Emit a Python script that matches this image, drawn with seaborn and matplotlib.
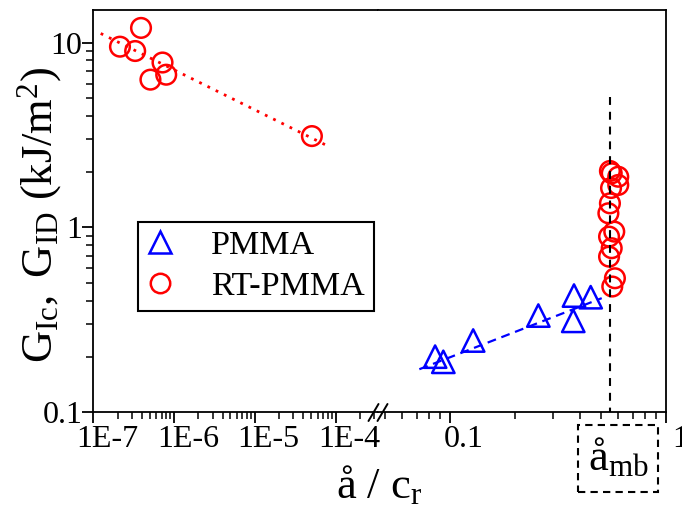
import numpy as np
import pandas as pd
import matplotlib
matplotlib.use('Agg')
import matplotlib.pyplot as plt
import matplotlib.transforms as mtrans
from matplotlib.patches import Rectangle
from matplotlib.lines import Line2D
from matplotlib.ticker import LogLocator, FixedLocator, FixedFormatter, NullFormatter
import seaborn as sns

# ---------------- data ----------------
rt_low_x = [3.9e-7, 2.14e-7, 3.3e-7, 7.2e-7, 5.1e-7, 8.0e-7, 5.1e-5]
rt_low_y = [12.0, 9.5, 9.0, 7.8, 6.3, 6.7, 3.12]
rt_fit_x = [1.235e-7, 8.4e-5]
rt_fit_y = [11.2, 2.73]

pmma_x = [0.0853, 0.0931, 0.128, 0.2564, 0.375, 0.372, 0.448]
pmma_y = [0.200, 0.1875, 0.2445, 0.3336, 0.428, 0.3123, 0.4194]
pmma_fit_x = [0.0721, 0.504]
pmma_fit_y = [0.171, 0.4144]

rt_mb_x = [0.550, 0.5605, 0.601, 0.601, 0.5566, 0.550, 0.541, 0.576, 0.545, 0.5605, 0.545, 0.580, 0.564]
rt_mb_y = [2.02, 1.963, 1.88, 1.697, 1.634, 1.35, 1.193, 0.949, 0.892, 0.772, 0.695, 0.531, 0.479]

a_mb = 0.553
a_mb_line_y = [5.1, 0.1]

left_ticks = [1e-7, 1e-6, 1e-5, 1e-4]
left_labels = ['1E-7', '1E-6', '1E-5', '1E-4']
right_ticks = [0.1, 1]
right_labels = ['0.1', '1']
y_ticks = [0.1, 1, 10]
y_labels = ['0.1', '1', '10']

# ---------------- style ----------------
sns.set_theme(style='ticks')
plt.rcParams['font.family'] = ['Liberation Serif', 'DejaVu Serif']
plt.rcParams['mathtext.fontset'] = 'custom'
plt.rcParams['mathtext.rm'] = 'Liberation Serif'
plt.rcParams['mathtext.it'] = 'Liberation Serif:italic'
plt.rcParams['mathtext.bf'] = 'Liberation Serif:bold'
for k in ('text.color', 'axes.labelcolor', 'xtick.color', 'ytick.color', 'axes.edgecolor'):
    plt.rcParams[k] = 'black'

W, H = 682, 520
fig = plt.figure(figsize=(W / 100, H / 100), dpi=100)
fig.patch.set_facecolor('white')

xl, xb, xr = 93.3, 378.0, 666.0
yt, yb = 10.0, 412.3
L = xl / W; BR = xb / W; R = xr / W
B = 1 - yb / H; T = 1 - yt / H
ax1 = fig.add_axes([L, B, BR - L, T - B])
ax2 = fig.add_axes([BR, B, R - BR, T - B], sharey=ax1)

for ax in (ax1, ax2):
    ax.set_facecolor('white')
    ax.set_xscale('log')
    ax.set_yscale('log')
    for s in ax.spines.values():
        s.set_linewidth(1.3)
        s.set_color('black')
ax1.spines['right'].set_visible(False)
ax2.spines['left'].set_visible(False)

ax1.set_xlim(1e-7, 3.36e-4)
ax2.set_xlim(0.0464, 1.0)
ax1.set_ylim(0.1, 15)

# ---------------- marks ----------------
ax1.plot(rt_fit_x, rt_fit_y, color='red', linestyle=(0, (1, 2.3)), linewidth=2.0, zorder=2)
ax2.plot(pmma_fit_x, pmma_fit_y, color='blue', linestyle=(0, (4, 2.6)), linewidth=1.6, zorder=2)
ax2.plot([a_mb, a_mb], a_mb_line_y, color='black', linestyle=(0, (3.8, 3.3)), linewidth=1.5,
         zorder=4, clip_on=False)

sns.scatterplot(x=rt_low_x, y=rt_low_y, ax=ax1, marker='o', s=200, facecolor='none',
                edgecolor='red', linewidth=1.8, zorder=3)
sns.scatterplot(x=rt_mb_x, y=rt_mb_y, ax=ax2, marker='o', s=200, facecolor='none',
                edgecolor='red', linewidth=1.8, zorder=3)
sns.scatterplot(x=pmma_x, y=pmma_y, ax=ax2, marker='^', s=260, facecolor='none',
                edgecolor='blue', linewidth=1.8, zorder=3)

# ---------------- ticks ----------------
tick_fs = 23
ax1.xaxis.set_major_locator(FixedLocator(left_ticks))
ax1.xaxis.set_major_formatter(FixedFormatter(left_labels))
ax1.xaxis.set_minor_locator(LogLocator(base=10, subs=np.arange(2, 10), numticks=20))
ax1.xaxis.set_minor_formatter(NullFormatter())
ax2.xaxis.set_major_locator(FixedLocator(right_ticks))
ax2.xaxis.set_major_formatter(FixedFormatter(right_labels))
ax2.xaxis.set_minor_locator(LogLocator(base=10, subs=np.arange(2, 10), numticks=20))
ax2.xaxis.set_minor_formatter(NullFormatter())
ax1.yaxis.set_major_locator(FixedLocator(y_ticks))
ax1.yaxis.set_major_formatter(FixedFormatter(y_labels))
ax1.yaxis.set_minor_locator(LogLocator(base=10, subs=np.arange(2, 10), numticks=20))
ax1.yaxis.set_minor_formatter(NullFormatter())

for ax in (ax1, ax2):
    ax.tick_params(axis='both', which='major', direction='out', length=8, width=1.3,
                   labelsize=tick_fs, colors='black', pad=1, top=False, right=False)
    ax.tick_params(axis='both', which='minor', direction='out', length=5, width=1.1,
                   colors='black', top=False, right=False)
ax2.tick_params(axis='y', which='both', left=False, labelleft=False)
ax1.tick_params(axis='y', which='major', pad=0)

offset = mtrans.ScaledTranslation(14 / 100, 0, fig.dpi_scale_trans)
for lab in ax1.get_xticklabels() + ax2.get_xticklabels():
    lab.set_transform(lab.get_transform() + offset)

# ---------------- axis break mark ----------------
for dx in (-4.5, 4.5):
    x0 = (xb + dx - 5) / W
    x1 = (xb + dx + 5) / W
    fig.add_artist(Line2D([x0, x1], [1 - 421 / H, 1 - 404 / H], color='black',
                          linewidth=1.4, transform=fig.transFigure))

# ---------------- labels ----------------
fig.text(40 / W, 1 - 215 / H, r'$\mathrm{G_{Ic},\ G_{ID}\ (kJ/m^2)}$', rotation=90,
         ha='center', va='center', fontsize=32, color='black')
fig.text((xl + xr) / 2 / W, 1 - 485 / H, r'å / c$_\mathrm{r}$', ha='center', va='center',
         fontsize=32, color='black')

fig.add_artist(Rectangle((578 / W, 1 - 492 / H), 80 / W, 67 / H, transform=fig.transFigure,
                         fill=False, edgecolor='black', linestyle=(0, (3.5, 2.5)), linewidth=1.5))
fig.text(618 / W, 1 - 458 / H, r'å$_\mathrm{mb}$', ha='center', va='center',
         fontsize=32, color='black')

# ---------------- legend ----------------
handles = [
    Line2D([], [], linestyle='none', marker='^', markersize=16, markerfacecolor='none',
           markeredgecolor='blue', markeredgewidth=1.8),
    Line2D([], [], linestyle='none', marker='o', markersize=14, markerfacecolor='none',
           markeredgecolor='red', markeredgewidth=1.8),
]
leg = ax1.legend(handles, ['PMMA', 'RT-PMMA'], loc='upper left',
                 bbox_to_anchor=(138.3 / W, 1 - 221.7 / H), bbox_transform=fig.transFigure,
                 frameon=True, fancybox=False, framealpha=1, edgecolor='black',
                 fontsize=24.5, borderpad=0.25, handlelength=0.8, handletextpad=1.1,
                 labelspacing=0.3, borderaxespad=0)
leg.get_frame().set_linewidth(1.5)
for t in leg.get_texts():
    t.set_color('black')
leg.set_zorder(10)

fig.savefig('out.png', dpi=100, facecolor='white')
